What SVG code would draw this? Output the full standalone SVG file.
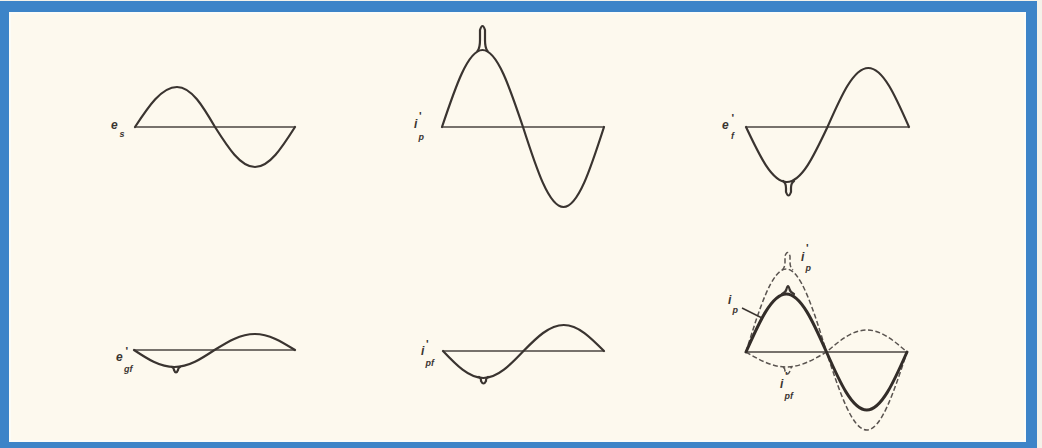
<svg xmlns="http://www.w3.org/2000/svg" width="1042" height="448" viewBox="0 0 1042 448">
<style>
.ax{fill:none;stroke:#4a4540;stroke-width:1.6}
.w{fill:none;stroke:#3a3430;stroke-width:2.2;stroke-linejoin:round;stroke-linecap:round}
.wt{fill:none;stroke:#332d29;stroke-width:3;stroke-linejoin:round;stroke-linecap:round}
.d{fill:none;stroke:#5a5450;stroke-width:1.5;stroke-dasharray:5 2.5}
.lb{font-family:"Liberation Sans",Arial,sans-serif;font-style:italic;font-weight:bold;font-size:12px;fill:#3a3430}
.sb{font-family:"Liberation Sans",Arial,sans-serif;font-style:italic;font-weight:bold;font-size:9px;fill:#3a3430}
.pr{font-family:"Liberation Sans",Arial,sans-serif;font-weight:bold;font-size:11px;fill:#3a3430}
</style>
<rect x="0" y="0" width="1042" height="448" fill="#f4f2ea"/>
<rect x="0" y="1" width="1037" height="447" fill="#3d84c8"/>
<rect x="10" y="13" width="1015" height="428" fill="#fdf9ee" stroke="#fbfcf8" stroke-width="2"/>

<g id="es">
<line class="ax" x1="135" y1="127" x2="295" y2="127"/>
<path class="w" d="M135,127 C148.5,106.5 161.5,87 177,87 C191.5,87 203,106.5 215,127 C228,147.5 240.5,167 255,167 C269.5,167 282,147.5 295,127"/>
<text class="lb" x="111" y="129">e</text>
<text class="sb" x="119.5" y="137">s</text>
</g>

<g id="ip1">
<line class="ax" x1="442" y1="127" x2="604" y2="127"/>
<path class="w" d="M442,127 C455.2,87.6 467.8,50 482.5,50 C497.2,50 509.8,87.6 523,127 C536.2,168 548.8,207 563.5,207 C578.2,207 590.8,168 604,127"/>
<path class="w" d="M477.5,51 Q480,48 480,40 L480,30 Q482.5,22 485,30 L485,40 Q485,48 487.5,51"/>
<text class="lb" x="414" y="128">i</text>
<text class="pr" x="419" y="120">'</text>
<text class="sb" x="418.5" y="140">p</text>
</g>

<g id="ef">
<line class="ax" x1="746" y1="127" x2="909" y2="127"/>
<path class="w" d="M746,127 C759.3,155.2 771.8,182 786.8,182 C801.7,182 814.2,155.2 827.5,127 C840.8,96.8 853.3,68 868.3,68 C883.2,68 895.7,96.8 909,127"/>
<path class="w" d="M783,181 Q786,183 786,188 L786,192 Q788.5,199 791,192 L791,188 Q791,183 794,181"/>
<text class="lb" x="722" y="129">e</text>
<text class="pr" x="731.5" y="122">'</text>
<text class="sb" x="731" y="139">f</text>
</g>

<g id="egf">
<line class="ax" x1="134" y1="350" x2="295" y2="350"/>
<path class="w" d="M134,350 C147.1,358.7 159.7,367 174.3,367 C188.9,367 201.4,358.7 214.5,350 C227.6,341.8 240.2,334 254.8,334 C269.3,334 281.9,341.8 295,350"/>
<path class="w" d="M172,367 Q174,368 174,370 Q176,375 178,370 Q178,368 180,367"/>
<text class="lb" x="116" y="361">e</text>
<text class="pr" x="125.5" y="355">'</text>
<text class="sb" x="124" y="372">gf</text>
</g>

<g id="ipf">
<line class="ax" x1="443" y1="351" x2="604" y2="351"/>
<path class="w" d="M443,351 C456.1,364.8 468.7,378 483.3,378 C497.8,378 510.4,364.8 523.5,351 C536.6,337.7 549.2,325 563.8,325 C578.3,325 590.9,337.7 604,351"/>
<path class="w" d="M479,377 Q481,378 481,380 L481,381 Q483.5,386 486,381 L486,380 Q486,378 488,377"/>
<text class="lb" x="421" y="355">i</text>
<text class="pr" x="426" y="348">'</text>
<text class="sb" x="425.5" y="366">pf</text>
</g>

<g id="combined">
<line class="ax" x1="746" y1="352" x2="907" y2="352"/>
<path class="d" d="M746,352 C759.1,309.5 771.7,269 786.3,269 C800.8,269 813.4,309.5 826.5,352 C839.6,392 852.2,430 866.8,430 C881.3,430 893.9,392 907,352"/>
<path class="d" d="M782,270 Q785,268 785,262 L785,256 Q787.5,249 790,256 L790,262 Q790,268 793,270"/>
<path class="d" d="M746,352 C759.1,359.7 771.7,367 786.3,367 C800.8,367 813.4,359.7 826.5,352 C839.6,340.7 852.2,330 866.8,330 C881.3,330 893.9,340.7 907,352"/>
<path class="d" d="M783,367 Q785,368 785,371 Q787.5,377 790,371 Q790,368 792,367"/>
<path class="wt" d="M746,352 C759.1,322.3 771.7,294 786.3,294 C800.8,294 813.4,322.3 826.5,352 C839.6,381.7 852.2,410 866.8,410 C881.3,410 893.9,381.7 907,352"/>
<path class="w" d="M782,294 Q786,292 786.5,289 Q788,283 789.5,289 Q790,292 794,294"/>
<text class="lb" x="801" y="261">i</text>
<text class="pr" x="806" y="252">'</text>
<text class="sb" x="805.5" y="271">p</text>
<text class="lb" x="728" y="304">i</text>
<text class="sb" x="732.5" y="313">p</text>
<text class="lb" x="780" y="388">i</text>
<text class="pr" x="785" y="380">'</text>
<text class="sb" x="784.5" y="399">pf</text>
</g>

<g id="connectors">
<line x1="742" y1="308" x2="762" y2="318" stroke="#3a3430" stroke-width="1.5"/>
</g>
</svg>
